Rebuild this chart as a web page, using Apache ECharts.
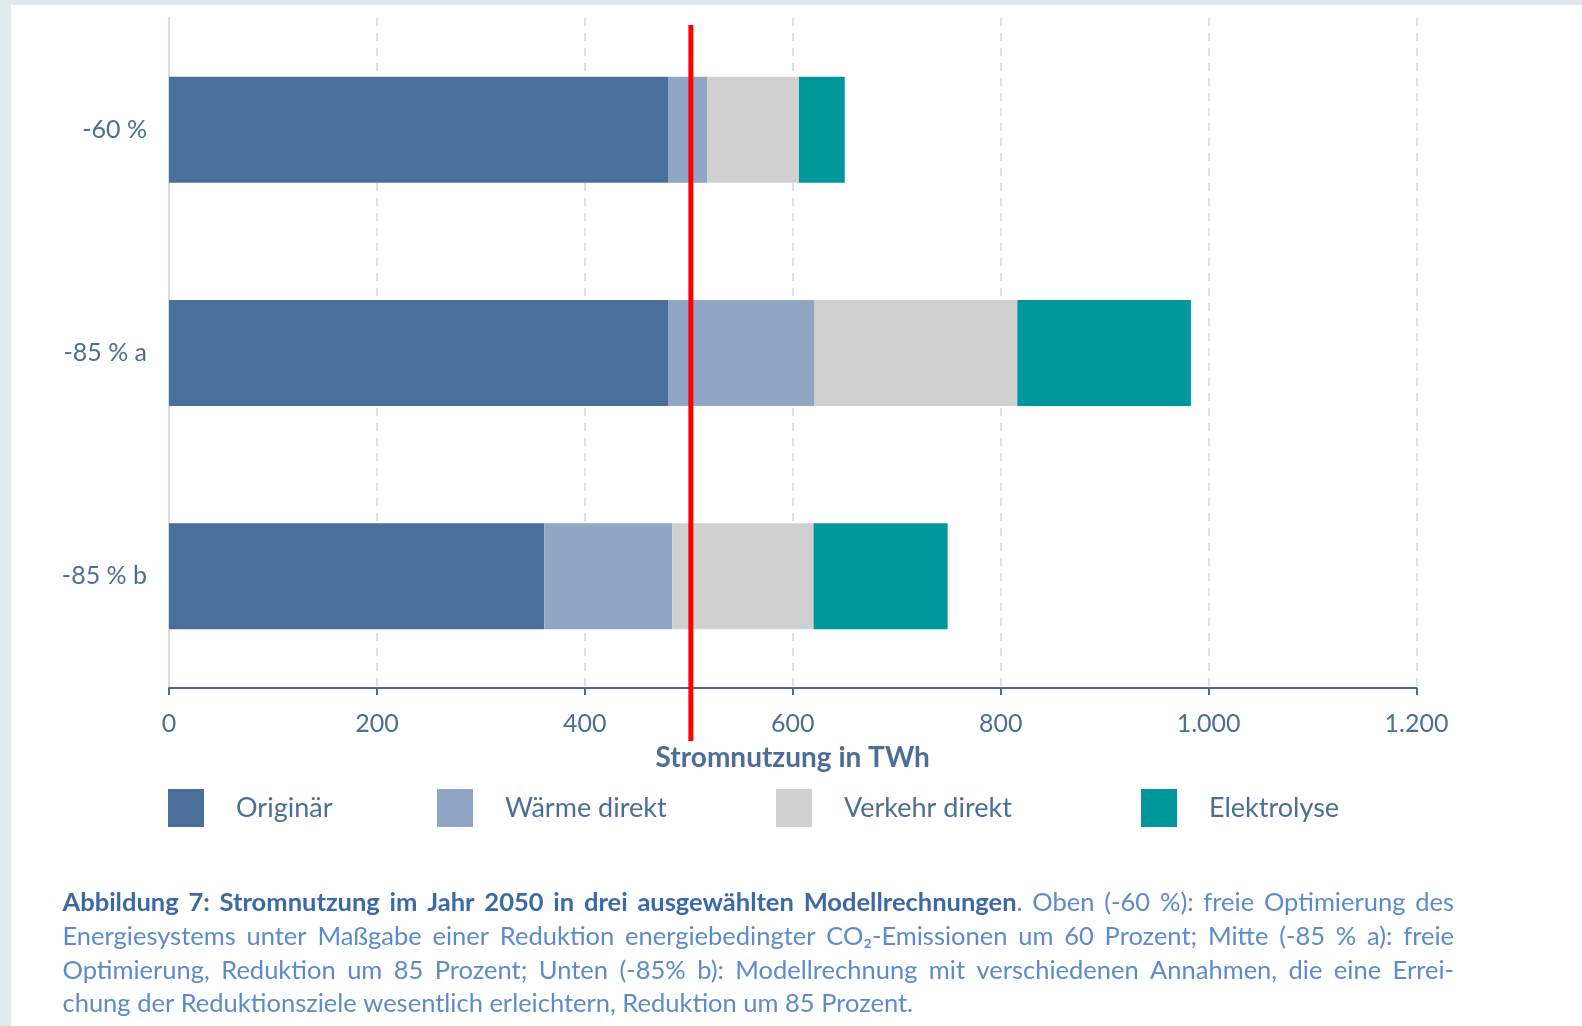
<!DOCTYPE html>
<html><head><meta charset="utf-8">
<script src="https://cdn.jsdelivr.net/npm/echarts@6/dist/echarts.min.js"></script>
<style>html,body{margin:0;padding:0;background:#e2e9ec;}#c{width:1582px;height:1026px;}</style>
</head><body><div id="c"></div>
<script>
// ---- data ----
const categories = ['-60 %', '-85 % a', '-85 % b'];
const seriesNames = ['Originär', 'Wärme direkt', 'Verkehr direkt', 'Elektrolyse'];
const originaer = [480, 480, 361];
const waermeDirekt = [38, 141, 123];
const verkehrDirekt = [88, 195, 136];
const elektrolyse = [44, 167, 129];
const xTickValues = [0, 200, 400, 600, 800, 1000, 1200];
const referenceLine = 502;
const xAxisName = 'Stromnutzung in TWh';
const captionLines = [
  [['b', 'Abbildung 7: Stromnutzung im Jahr 2050 in drei ausgewählten Modellrechnungen'], ['r', '. Oben (-60 %): freie Optimierung des']],
  [['r', 'Energiesystems unter Maßgabe einer Reduktion energiebedingter CO₂-Emissionen um 60 Prozent; Mitte (-85 % a): freie']],
  [['r', 'Optimierung, Reduktion um 85 Prozent; Unten (-85% b): Modellrechnung mit verschiedenen Annahmen, die eine Errei-']],
  [['r', 'chung der Reduktionsziele wesentlich erleichtern, Reduktion um 85 Prozent.']]
];

// ---- styles ----
const FONT = 'Lato';
const colors = ['#4a6f9a', '#91a5c4', '#d0d0d0', '#00979a'];
const textBlue = '#4c6d98';
const legendLefts = [168, 437, 776, 1141];
const valuesBySeries = [originaer, waermeDirekt, verkehrDirekt, elektrolyse];

const chart = echarts.init(document.getElementById('c'), null, {renderer: 'canvas'});

const option = {
  backgroundColor: '#e2e9ec',
  animation: false,
  textStyle: {fontFamily: FONT},
  grid: {left: 169, right: 165.5, top: 18, bottom: 338, containLabel: false},
  xAxis: {
    type: 'value', min: xTickValues[0], max: xTickValues[xTickValues.length - 1], interval: 200,
    name: xAxisName, nameLocation: 'middle', nameGap: 56,
    nameTextStyle: {fontFamily: FONT, fontSize: 28, fontWeight: 'bold', color: textBlue},
    axisLine: {show: true, lineStyle: {color: '#4b6a94', width: 2}},
    axisTick: {show: true, length: 7, lineStyle: {color: '#4b6a94', width: 2}},
    axisLabel: {margin: 23, fontFamily: FONT, fontSize: 25, color: textBlue,
      formatter: v => v.toLocaleString('de-DE')},
    splitLine: {show: true, lineStyle: {type: [8, 7], color: '#d3d9e8', width: 1.5}}
  },
  yAxis: {
    type: 'category', inverse: true, data: categories,
    axisLine: {show: true, lineStyle: {color: '#d7dce8', width: 2}},
    axisTick: {show: false},
    axisLabel: {margin: 22, fontFamily: FONT, fontSize: 25, color: textBlue}
  },
  legend: seriesNames.map((n, i) => ({
    data: [n], left: legendLefts[i], top: 789, padding: 0, icon: 'rect', itemWidth: 36, itemHeight: 38,
    selectedMode: false,
    textStyle: {fontFamily: FONT, fontSize: 27, color: textBlue, padding: [0, 0, 0, 27]}
  })),
  series: seriesNames.map((n, i) => ({
    name: n, type: 'bar', stack: 'total', barWidth: 106,
    itemStyle: {color: colors[i]},
    data: valuesBySeries[i]
  }))
};
chart.setOption(option);

// ---- decorations: white panel, reference line (x from axis scale), caption ----
const rx = chart.convertToPixel({xAxisIndex: 0}, referenceLine);
const graphics = [
  {id: 'panel', type: 'rect', shape: {x: 11, y: 5, width: 1571, height: 1021}, style: {fill: '#ffffff'}, z: -100, silent: true},
  {id: 'refline', type: 'line', shape: {x1: rx, y1: 25, x2: rx, y2: 741},
    style: {stroke: '#ff0000', lineWidth: 5}, z: 100, silent: true}
];

const capSize = 25.5;
const ctx = document.createElement('canvas').getContext('2d');
function measure(t, st) {
  ctx.font = (st === 'b' ? 'bold ' : 'normal ') + capSize + 'px ' + FONT;
  return ctx.measureText(t).width;
}
function toWords(line) {
  const ws = []; let cur = [];
  line.forEach(([st, txt]) => {
    txt.split(/( )/).forEach(p => {
      if (p === ' ') { if (cur.length) { ws.push(cur); cur = []; } }
      else if (p) cur.push([st, p]);
    });
  });
  if (cur.length) ws.push(cur);
  return ws;
}
const capLeft = 62.5, capRight = 1454, capYs = [903, 937, 971, 1004];
const rich = {
  b: {fontWeight: 'bold', fill: '#3b69a6', fontSize: capSize, fontFamily: FONT},
  r: {fontWeight: 'normal', fill: '#5b8bcb', fontSize: capSize, fontFamily: FONT}
};
captionLines.forEach((line, li) => {
  const ws = toWords(line);
  const widths = ws.map(w => w.reduce((s, [st, t]) => s + measure(t, st), 0));
  const total = widths.reduce((a, b) => a + b, 0);
  const justify = li < captionLines.length - 1;
  const gap = justify ? (capRight - capLeft - total) / (ws.length - 1) : measure(' ', 'r');
  let x = capLeft;
  ws.forEach((w, wi) => {
    graphics.push({
      id: 'cap_' + li + '_' + wi, type: 'text', x: x, y: capYs[li], silent: true, z: 50,
      style: {text: w.map(([st, t]) => '{' + st + '|' + t + '}').join(''), rich: rich,
        fontSize: capSize, fontFamily: FONT, verticalAlign: 'middle', align: 'left'}
    });
    x += widths[wi] + gap;
  });
});
chart.setOption({graphic: graphics});
</script></body></html>
